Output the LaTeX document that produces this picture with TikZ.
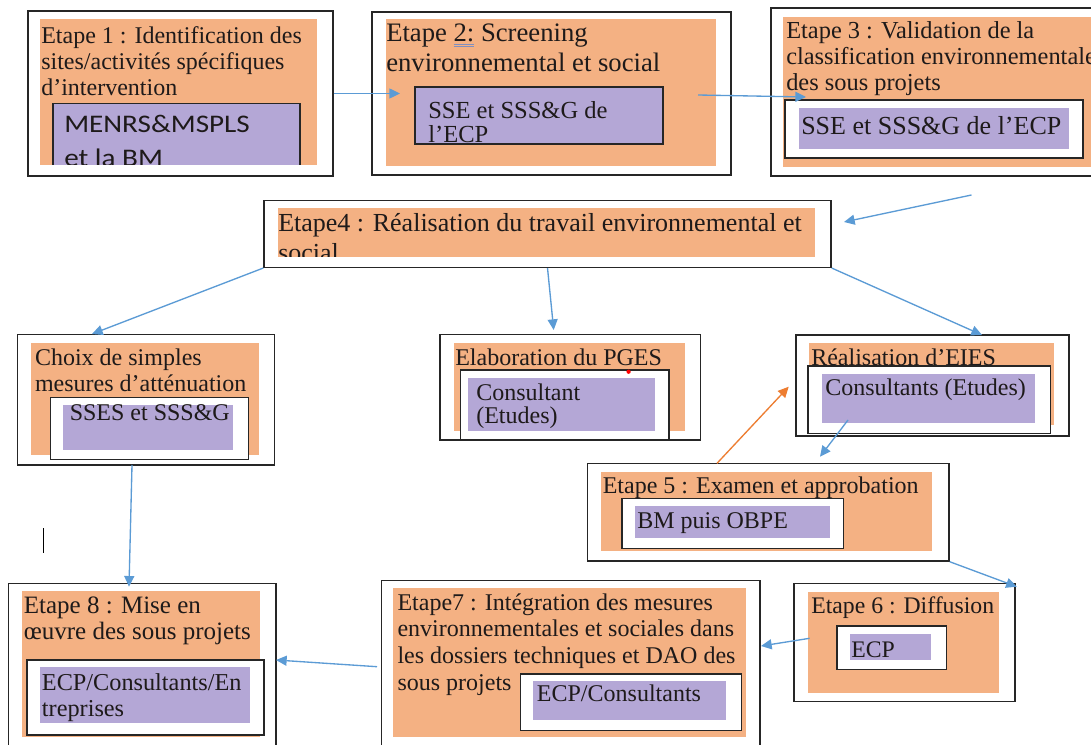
\documentclass[tikz,border=0pt]{standalone}
\usepackage{fontspec}
\setmainfont{Liberation Serif}
\newfontfamily\calib[FakeStretch=1.15]{Carlito}
\usetikzlibrary{arrows.meta,fit}
\definecolor{orf}{HTML}{F4B183}
\definecolor{puf}{HTML}{B4A7D6}
\definecolor{arb}{HTML}{5B9BD5}
\definecolor{aro}{HTML}{ED7D31}
\definecolor{bxc}{HTML}{262626}
\definecolor{txc}{HTML}{1E1A1A}
\definecolor{ulb}{HTML}{7F8FC0}
\newcommand\dblul[1]{\setbox0=\hbox{#1}\rlap{\textcolor{ulb}{\rule[-2.4pt]{\wd0}{0.6pt}}}\rlap{\textcolor{ulb}{\rule[-3.9pt]{\wd0}{0.6pt}}}\box0}
\newcommand\fsz[2]{\fontsize{#1pt}{#2pt}\selectfont}
\begin{document}
\begin{tikzpicture}[x=0.75pt,y=-0.75pt,
 outer/.style={draw=bxc, line width=1.1pt, inner sep=0pt},
 orng/.style={fill=orf},
 purp/.style={fill=puf},
 inbox/.style={draw=bxc, line width=1.1pt, fill=white},
 pbox/.style={fill=puf, draw=bxc, line width=1.1pt},
 txt/.style={anchor=base west, inner sep=0pt, text=txc},
 arr/.style={draw=arb, line width=1pt, -{Triangle[length=8pt,width=7.5pt]}},
 arro/.style={draw=aro, line width=1pt, -{Triangle[length=8pt,width=7.5pt]}},
]
\useasboundingbox (0,0) rectangle (1091,745);
\clip (0,0) rectangle (1091,745);
\fill[white] (0,0) rectangle (1091,745);

% outer boxes
\node[outer, fit={(28,11) (333,176)}] (e1) {};
\node[outer, fit={(372,12) (731,175)}] (e2) {};
\node[outer, fit={(771,8) (1110,176)}] (e3) {};
\node[outer, fit={(264,200.7) (831,267.3)}] (e4) {};
\node[outer, fit={(17.4,334.3) (274.6,465)}] (ch) {};
\node[outer, fit={(440,334.3) (700.6,440)}] (pg) {};
\node[outer, fit={(796,335) (1069,436)}] (ei) {};
\node[outer, fit={(587.5,463.3) (949,561)}] (e5) {};
\node[outer, fit={(794,583.3) (1015,701.7)}] (e6) {};
\node[outer, fit={(381.7,580.7) (760,770)}] (e7) {};
\node[outer, fit={(8.7,583.3) (276,770)}] (e8) {};

% orange fills
\fill[orng] (40,19) rectangle (317,165);
\fill[orng] (386,19) rectangle (716,166);
\fill[orng] (783,17) rectangle (1100,167);
\fill[orng] (278,208) rectangle (815,256.7);
\fill[orng] (30.6,342.7) rectangle (259,455);
\fill[orng] (453.6,342.7) rectangle (685,430.7);
\fill[orng] (809,342.7) rectangle (1054,425);
\fill[orng] (600.7,471.7) rectangle (932,550.7);
\fill[orng] (808,591.7) rectangle (999,692.7);
\fill[orng] (392.7,588.3) rectangle (745.7,736.7);
\fill[orng] (21.5,591) rectangle (260,736.7);

% inner white boxes
\filldraw[inbox] (785,100) rectangle (1083,158);
\filldraw[inbox] (50.4,397.3) rectangle (248.5,459.3);
\filldraw[inbox] (460.5,370) rectangle (669,440);
\filldraw[inbox] (808,366) rectangle (1050.6,433.3);
\filldraw[inbox] (622,498.3) rectangle (843.7,548.3);
\filldraw[inbox] (836.8,626) rectangle (946.5,669.3);
\filldraw[inbox] (520.7,674) rectangle (741.7,730.7);
\filldraw[inbox] (27,660) rectangle (264,735);

% purple fills
\fill[purp] (799,108) rectangle (1069,149);
\fill[purp] (62.6,405) rectangle (233,450);
\fill[purp] (467.5,378.3) rectangle (654.7,430.7);
\fill[purp] (822,374.3) rectangle (1035,423.3);
\fill[purp] (634.8,506) rectangle (829.5,537.7);
\fill[purp] (850,634) rectangle (930.8,660);
\fill[purp] (533.3,681) rectangle (726,720);
\fill[purp] (40,666.7) rectangle (250,723.3);
\filldraw[pbox] (415,87) rectangle (663,144);

% Etape 1 (purple part clipped by the orange area)
\begin{scope}
\clip (40,19) rectangle (317,165);
\fill[purp] (53,103.3) rectangle (300,170);
\draw[draw=bxc, line width=1.1pt] (53,170) -- (53,103.3) -- (300,103.3) -- (300,170);
\node[txt, font=\calib\fsz{19}{25}] (e1p) at (64,133) {\parbox[t]{300pt}{\raggedright MENRS\&MSPLS\\et la BM}};
\end{scope}
\node[txt, font=\fsz{18}{19.5}] (e1t) at (41,43.3) {\parbox[t]{300pt}{\raggedright Etape 1 : Identification des\\sites/activités spécifiques\\d’intervention}};

% Etape 2
\node[txt, font=\fsz{20}{22}] (e2t) at (386,41.7) {\parbox[t]{300pt}{\raggedright Etape \dblul{2:}\ Screening\\environnemental et social}};
\node[txt, font=\fsz{18.4}{18.3}] (e2p) at (428,118.3) {\parbox[t]{300pt}{\raggedright SSE et SSS\&G de\\l’ECP}};

% Etape 3
\node[txt, font=\fsz{18.3}{19.5}] (e3t) at (786,39) {\parbox[t]{400pt}{\raggedright Etape 3 : Validation de la\\classification environnementale\\des sous projets}};
\node[txt, font=\fsz{19.5}{20}] (e3p) at (801,135) {SSE et SSS\&G de l’ECP};

% Etape 4
\begin{scope}
\clip (278,208) rectangle (815,256.7);
\node[txt, font=\fsz{19.5}{22.5}] (e4t) at (278,231.7) {\parbox[t]{500pt}{\raggedright Etape4 : Réalisation du travail environnemental et\\social}};
\end{scope}

% row 3
\node[txt, font=\fsz{18}{20}] (cht) at (34.8,365) {\parbox[t]{300pt}{\raggedright Choix de simples\\mesures d’atténuation}};
\node[txt, font=\fsz{18}{20}] (chp) at (69.5,420) {SSES et SSS\&G};
\node[txt, font=\fsz{18}{20}] (pgt) at (455,365) {Elaboration du PGES};
\node[txt, font=\fsz{18}{17.5}] (pgp) at (476,400) {\parbox[t]{300pt}{\raggedright Consultant\\(Etudes)}};
\fill[red] (628.6,371.7) circle (1.6pt);
\node[txt, font=\fsz{18}{20}] (eit) at (811,365) {Réalisation d’EIES};
\node[txt, font=\fsz{18}{20}] (eip) at (825,395) {Consultants (Etudes)};

% Etape 5, 6
\node[txt, font=\fsz{18}{20}] (e5t) at (602.5,493.3) {Etape 5 : Examen et approbation};
\node[txt, font=\fsz{18}{20}] (e5p) at (637,528.3) {BM puis OBPE};
\node[txt, font=\fsz{17.8}{20}] (e6t) at (811,613.3) {Etape 6 : Diffusion};
\node[txt, font=\fsz{17.8}{20}] (e6p) at (851,657.3) {ECP};

% Etape 7, 8
\node[txt, font=\fsz{18}{20}] (e7t) at (397.3,610) {\parbox[t]{400pt}{\raggedright Etape7 : Intégration des mesures\\environnementales et sociales dans\\les dossiers techniques et DAO des\\sous projets}};
\node[txt, font=\fsz{18}{20}] (e7p) at (536.7,701.7) {ECP/Consultants};
\node[txt, font=\fsz{18.75}{20}] (e8t) at (23.6,613.3) {\parbox[t]{300pt}{\raggedright Etape 8 : Mise en\\œuvre des sous projets}};
\node[txt, font=\fsz{18.2}{20}] (e8p) at (41.7,690) {\parbox[t]{300pt}{\raggedright ECP/Consultants/En\\treprises}};

% cursor mark
\draw[line width=1pt, black] (43.4,528.3) -- (43.4,553.3);

% connectors
\coordinate (t12) at (400,93.5);
\coordinate (s23) at (698,95);
\coordinate (t23) at (806,97);
\coordinate (s34) at (971.5,195);
\coordinate (t34) at (844,222);
\coordinate (tch) at (92,334);
\coordinate (tpg) at (553.7,330);
\coordinate (tei) at (982,335);
\coordinate (s5) at (848,420);
\coordinate (t5) at (820,456.7);
\coordinate (so) at (717,463.3);
\coordinate (to) at (788.7,386.7);
\coordinate (t6) at (1016.8,586.7);
\coordinate (s7) at (809.6,638.3);
\coordinate (t7) at (761,646);
\coordinate (s8) at (132,465);
\coordinate (t8) at (129,586.7);
\coordinate (s78) at (377,666.7);
\coordinate (t78) at (276,660);

\draw[arr] (e1.east) -- (t12);
\draw[arr] (s23) -- (t23);
\draw[arr] (s34) -- (t34);
\draw[arr] (e4.south west) -- (tch);
\draw[arr] (e4.south) -- (tpg);
\draw[arr] (e4.south east) -- (tei);
\draw[arr] (s5) -- (t5);
\draw[arro] (so) -- (to);
\draw[arr] (e5.south east) -- (t6);
\draw[arr] (s7) -- (t7);
\draw[arr] (s8) -- (t8);
\draw[arr] (s78) -- (t78);
\end{tikzpicture}
\end{document}
